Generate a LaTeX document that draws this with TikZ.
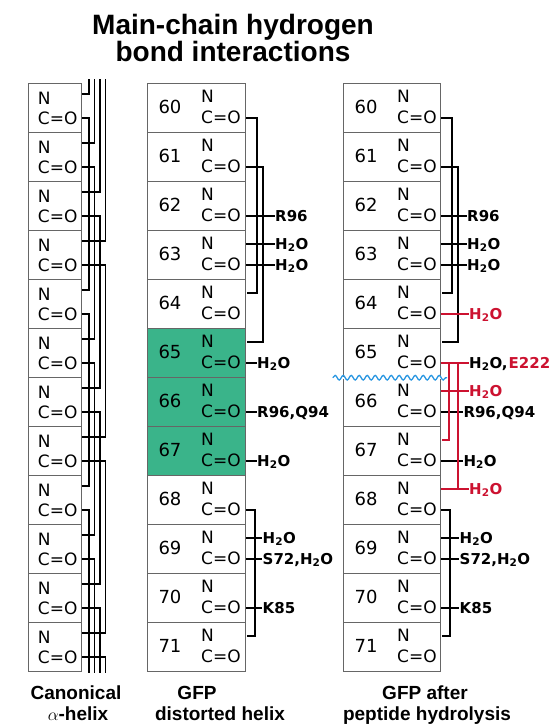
\documentclass[tikz,border=0pt]{standalone}
\usepackage{fontspec}
\setmainfont{Liberation Sans}
\newfontfamily\resfont{DejaVu Sans}
\usepackage{tikz}
\usetikzlibrary{positioning, decorations.pathmorphing}
\definecolor{gfpgreen}{RGB}{58,180,138}
\definecolor{cutred}{RGB}{204,18,48}
\definecolor{cutblue}{RGB}{40,150,225}

\begin{document}
\begin{tikzpicture}[
  x=1pt, y=-1pt,
  res/.style={rectangle, draw=black!60, line width=1pt, minimum height=49pt,
    inner sep=0pt, anchor=north west},
  atom/.style={font=\resfont\fontsize{17}{17}\selectfont, inner sep=0pt,
    text height=12.4pt, text depth=0pt, anchor=west},
  num/.style={font=\resfont\fontsize{18}{18}\selectfont, inner sep=0pt,
    text height=13.1pt, text depth=0pt},
  lbl/.style={font=\resfont\bfseries\fontsize{15}{15}\selectfont, inner sep=0pt,
    text height=10.9pt, text depth=0pt, anchor=west},
  captxt/.style={font=\bfseries\fontsize{19}{19}\selectfont, inner sep=0pt, anchor=base},
  ttl/.style={font=\bfseries\fontsize{28}{28}\selectfont, inner sep=0pt, anchor=base},
  hb/.style={line width=1.7pt, shorten >=0.5pt},
  hbthin/.style={line width=1.8pt}
]
\useasboundingbox (0,0) rectangle (549,725);

\node[ttl] (title1) at (233,35) {Main-chain hydrogen};
\node[ttl] (title2) at (233,61) {bond interactions};

% canonical helix
\foreach \i in {0,...,11}{
  \pgfmathsetmacro\ty{82.7+49*\i}
  \node[res, minimum width=53pt] (c\i) at (28.3,\ty) {};
  \node[atom] (cN\i) at (37.7,\ty+15.5) {N};
  \node[atom] (cC\i) at (37.7,\ty+35.5) {C=O};
  \coordinate (cNl\i) at ([yshift=4.5pt]cN\i.west);
}
\foreach \j/\tx in {0/89,1/94.5,2/100,3/105.5}{
  \coordinate (ctop\j) at (\tx,79);
  \coordinate (cbot\j) at (\tx,673);
}
\foreach \i in {0,...,11}{
  \pgfmathtruncatemacro\j{mod(\i,4)}
  \pgfmathtruncatemacro\k{\i+4}
  \ifnum\i<4 \draw[hbthin] (ctop\j) |- (c\i.east |- cNl\i); \fi
  \ifnum\i<8
    \draw[hbthin] (c\i.east |- cC\i) -| (ctop\j |- cNl\k) -- (c\k.east |- cNl\k);
  \else
    \draw[hbthin] (c\i.east |- cC\i) -| (cbot\j);
  \fi
}

% GFP distorted helix
\foreach \i in {0,...,11}{
  \pgfmathsetmacro\ty{82.7+49*\i}
  \pgfmathtruncatemacro\k{60+\i}
  \def\boxfill{white}
  \ifnum\k>64 \ifnum\k<68 \def\boxfill{gfpgreen}\fi\fi
  \node[res, minimum width=98.3pt, fill=\boxfill] (m\k) at (146.7,\ty) {};
  \node[num] (mn\k) at (170,\ty+24.3) {\k};
  \node[atom] (mN\k) at (201,\ty+14) {N};
  \node[atom] (mC\k) at (201,\ty+35) {C=O};
}
\coordinate (mtA) at (256.7,0);
\coordinate (mtB) at (262.7,0);
\coordinate (mtC) at (255,0);
\coordinate (mlA) at (275,0);
\coordinate (mlB) at (257,0);
\coordinate (mlC) at (262.5,0);

\node[lbl] (mR96) at (mC62 -| mlA) {R96};
\node[lbl] (mW63n) at (mN63 -| mlA) {H\textsubscript{2}O};
\node[lbl] (mW63c) at (mC63 -| mlA) {H\textsubscript{2}O};
\node[lbl] (mW65) at (mC65 -| mlB) {H\textsubscript{2}O};
\node[lbl] (mRQ66) at (mC66 -| mlB) {R96,Q94};
\node[lbl] (mW67) at (mC67 -| mlB) {H\textsubscript{2}O};
\node[lbl] (mW69) at (mN69 -| mlC) {H\textsubscript{2}O};
\node[lbl] (mS72) at (mC69 -| mlC) {S72,H\textsubscript{2}O};
\node[lbl] (mK85) at (mC70 -| mlC) {K85};

\draw[hb] (m60.east |- mC60) -| (mtA |- mN64) -- (m64.east |- mN64);
\draw[hb] (m61.east |- mC61) -| (mtB |- mN65) -- (m65.east |- mN65);
\draw[hb] (m62.east |- mC62) -- (mR96.west);
\draw[hb] (m63.east |- mN63) -- (mW63n.west);
\draw[hb] (m63.east |- mC63) -- (mW63c.west);
\draw[hb] (m65.east |- mC65) -- (mW65.west);
\draw[hb] (m66.east |- mC66) -- (mRQ66.west);
\draw[hb] (m67.east |- mC67) -- (mW67.west);
\draw[hb] (m68.east |- mC68) -| (mtC |- mN71) -- (m71.east |- mN71);
\draw[hb] (m69.east |- mN69) -- (mW69.west);
\draw[hb] (m69.east |- mC69) -- (mS72.west);
\draw[hb] (m70.east |- mC70) -- (mK85.west);

% GFP after hydrolysis
\foreach \i in {0,...,11}{
  \pgfmathsetmacro\ty{82.7+49*\i}
  \pgfmathtruncatemacro\k{60+\i}
  \node[res, minimum width=97.3pt, fill=white] (r\k) at (342.7,\ty) {};
  \node[num] (rn\k) at (366,\ty+24.3) {\k};
  \node[atom] (rN\k) at (397,\ty+14) {N};
  \node[atom] (rC\k) at (397,\ty+35) {C=O};
}
\coordinate (rtA) at (451.7,0);
\coordinate (rtB) at (458.3,0);
\coordinate (rtR1) at (449.3,0);
\coordinate (rtR2) at (458.3,0);
\coordinate (rtC) at (450,0);
\coordinate (rlA) at (467,0);
\coordinate (rlB) at (469,0);
\coordinate (rlC) at (463.3,0);
\coordinate (rlD) at (459.5,0);

\node[lbl] (rR96) at (rC62 -| rlA) {R96};
\node[lbl] (rW63n) at (rN63 -| rlA) {H\textsubscript{2}O};
\node[lbl] (rW63c) at (rC63 -| rlA) {H\textsubscript{2}O};
\node[lbl, text=cutred] (rW64) at (rC64 -| rlB) {H\textsubscript{2}O};
\node[lbl] (rE222) at (rC65 -| rlB) {H\textsubscript{2}O,\kern1pt\textcolor{cutred}{E222}};
\node[lbl, text=cutred] (rW66) at (rN66 -| rlB) {H\textsubscript{2}O};
\node[lbl] (rRQ66) at (rC66 -| rlC) {R96,Q94};
\node[lbl] (rW67) at (rC67 -| rlC) {H\textsubscript{2}O};
\node[lbl, text=cutred] (rW68) at (rN68 -| rlB) {H\textsubscript{2}O};
\node[lbl] (rW69) at (rN69 -| rlD) {H\textsubscript{2}O};
\node[lbl] (rS72) at (rC69 -| rlD) {S72,H\textsubscript{2}O};
\node[lbl] (rK85) at (rC70 -| rlD) {K85};

\draw[hb] (r60.east |- rC60) -| (rtA |- rN64) -- (r64.east |- rN64);
\draw[hb] (r61.east |- rC61) -| (rtB |- rN65) -- (r65.east |- rN65);
\draw[hb] (r62.east |- rC62) -- (rR96.west);
\draw[hb] (r63.east |- rN63) -- (rW63n.west);
\draw[hb] (r63.east |- rC63) -- (rW63c.west);
\draw[hb] (r66.east |- rC66) -- (rRQ66.west);
\draw[hb] (r67.east |- rC67) -- (rW67.west);
\draw[hb] (r68.east |- rC68) -| (rtC |- rN71) -- (r71.east |- rN71);
\draw[hb] (r69.east |- rN69) -- (rW69.west);
\draw[hb] (r69.east |- rC69) -- (rS72.west);
\draw[hb] (r70.east |- rC70) -- (rK85.west);

\draw[hb, cutred] (r64.east |- rC64) -- (rW64.west);
\draw[hb, cutred] (r65.east |- rC65) -- (rE222.west);
\draw[hb, cutred] (r66.east |- rN66) -- (rW66.west);
\draw[hb, cutred] (r68.east |- rN68) -- (rW68.west);
\draw[hb, cutred] (rtR1 |- rC65) |- (r67.east |- rN67);
\draw[hb, cutred] (rtR2 |- rC65) -- (rtR2 |- rN68);

% peptide cut
\draw[white, line width=2pt] (r65.south west) -- (r65.south east);
\draw[cutblue, line width=1.3pt, decorate,
  decoration={snake, segment length=8pt, amplitude=2.3pt}]
  ([xshift=-10pt]r65.south west) -- ([xshift=6pt]r65.south east);

\node[captxt] (capC1) at (76,699) {Canonical};
\node[captxt] (capC2) at (78,720) {$\alpha$-helix};
\node[captxt] (capM1) at (197,699) {GFP};
\node[captxt] (capM2) at (220,720) {distorted helix};
\node[captxt] (capR1) at (425,699) {GFP after};
\node[captxt] (capR2) at (427,720) {peptide hydrolysis};
\end{tikzpicture}
\end{document}
